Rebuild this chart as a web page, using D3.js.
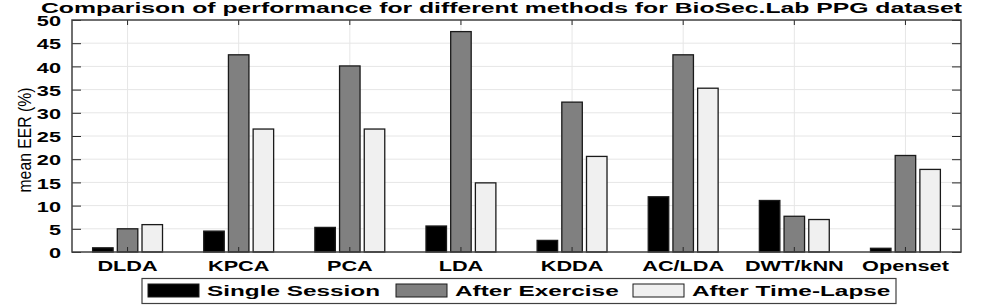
<!DOCTYPE html>
<html>
<head>
<meta charset="utf-8">
<script src="https://cdn.jsdelivr.net/npm/d3@7"></script>
<style>
  body { margin: 0; background: #fff; }
  text { font-family: "Liberation Sans", Arial, Helvetica, sans-serif; fill: #000; }
</style>
</head>
<body>
<svg id="chart" width="999" height="307"></svg>
<script>
const methods = ["DLDA", "KPCA", "PCA", "LDA", "KDDA", "AC/LDA", "DWT/kNN", "Openset"];
const seriesNames = ["Single Session", "After Exercise", "After Time-Lapse"];
const singleSession = [0.9, 4.5, 5.3, 5.6, 2.5, 11.9, 11.1, 0.8];
const afterExercise = [5.0, 42.5, 40.1, 47.5, 32.3, 42.5, 7.7, 20.8];
const afterTimeLapse = [5.9, 26.5, 26.5, 14.9, 20.6, 35.3, 7.0, 17.8];
const yTicks = [0, 5, 10, 15, 20, 25, 30, 35, 40, 45, 50];
const colors = ["#000000", "#808080", "#f0f0f0"];

const size = { left: 72, right: 961, top: 20, bottom: 252 };
const svg = d3.select("#chart");

// stretch text horizontally like the reference
function stretch(sel, k) {
    sel.each(function() {
        const w = this.getComputedTextLength();
        d3.select(this).attr("textLength", w * k).attr("lengthAdjust", "spacingAndGlyphs");
    });
}

const x = d3.scaleBand().domain(methods).range([size.left, size.right]).padding(0);
const y = d3.scaleLinear().domain([0, 50]).range([size.bottom, size.top]);
const inner = d3.scaleBand().domain(seriesNames).range([0, 69.9]).paddingInner(0.17).paddingOuter(0);

const data = methods.map((m, i) => ({
    method: m,
    values: [singleSession[i], afterExercise[i], afterTimeLapse[i]]
}));

// grid
svg.append("g").selectAll("line.h")
    .data(yTicks.slice(1, -1))
    .join("line")
    .attr("x1", size.left).attr("x2", size.right)
    .attr("y1", d => y(d)).attr("y2", d => y(d))
    .attr("stroke", "#e6e6e6").attr("stroke-width", 1);
svg.append("g").selectAll("line.v")
    .data(methods)
    .join("line")
    .attr("x1", d => x(d) + x.bandwidth() / 2).attr("x2", d => x(d) + x.bandwidth() / 2)
    .attr("y1", size.top).attr("y2", size.bottom)
    .attr("stroke", "#e6e6e6").attr("stroke-width", 1);

// bars
const groups = svg.append("g").selectAll("g")
    .data(data)
    .join("g")
    .attr("transform", d => `translate(${x(d.method) + x.bandwidth() / 2 - 34.95},0)`);
groups.selectAll("rect")
    .data(d => d.values.map((v, j) => ({ name: seriesNames[j], v, j })))
    .join("rect")
    .attr("x", d => inner(d.name))
    .attr("y", d => y(d.v))
    .attr("width", inner.bandwidth())
    .attr("height", d => y(0) - y(d.v))
    .attr("fill", d => colors[d.j])
    .attr("stroke", "#1a1a1a")
    .attr("stroke-width", 1.3);

// axes
const axisStyle = g => {
    g.select(".domain").remove();
    g.selectAll(".tick line").attr("stroke", "#262626").attr("stroke-width", 1);
    g.selectAll("text").attr("font-size", 14).attr("font-weight", "bold").attr("fill", "#262626");
};
const yl = svg.append("g")
    .attr("transform", `translate(${size.left},0)`)
    .call(d3.axisLeft(y).tickValues(yTicks).tickSizeInner(-9).tickSizeOuter(0).tickPadding(11))
    .call(axisStyle);
yl.selectAll("text").attr("dy", "0.4em");
stretch(yl.selectAll("text"), 1.55);
svg.append("g")
    .attr("transform", `translate(${size.right},0)`)
    .call(d3.axisRight(y).tickValues(yTicks).tickSizeInner(-9).tickSizeOuter(0).tickFormat(""))
    .call(axisStyle);
const xb = svg.append("g")
    .attr("transform", `translate(0,${size.bottom})`)
    .call(d3.axisBottom(x).tickSizeInner(-5).tickSizeOuter(0).tickPadding(9))
    .call(axisStyle);
stretch(xb.selectAll("text"), 1.55);
svg.append("g")
    .attr("transform", `translate(0,${size.top})`)
    .call(d3.axisTop(x).tickSizeInner(-5).tickSizeOuter(0).tickFormat(""))
    .call(axisStyle);

// box
svg.append("rect")
    .attr("x", size.left).attr("y", size.top)
    .attr("width", size.right - size.left).attr("height", size.bottom - size.top)
    .attr("fill", "none").attr("stroke", "#404040").attr("stroke-width", 1.5);

// title
svg.append("text")
    .attr("x", 41).attr("y", 13)
    .attr("font-size", 14.5).attr("font-weight", "bold")
    .attr("textLength", 921).attr("lengthAdjust", "spacingAndGlyphs")
    .text("Comparison of performance for different methods for BioSec.Lab PPG dataset");

// y label (glyphs widened like the rest of the figure)
svg.append("text")
    .attr("transform", "translate(31,140) scale(1.35,1) rotate(-90)")
    .attr("text-anchor", "middle")
    .attr("font-size", 13)
    .attr("fill", "#1a1a1a")
    .attr("textLength", 105).attr("lengthAdjust", "spacingAndGlyphs")
    .text("mean EER (%)");

// legend
const legend = svg.append("g");
legend.append("rect")
    .attr("x", 142).attr("y", 278.5).attr("width", 754).attr("height", 25)
    .attr("fill", "#fff").attr("stroke", "#404040").attr("stroke-width", 1.2);
const swatchX = [148, 396, 633];
seriesNames.forEach((name, j) => {
    legend.append("rect")
        .attr("x", swatchX[j]).attr("y", 284).attr("width", 51).attr("height", 13)
        .attr("fill", colors[j]).attr("stroke", "#1a1a1a").attr("stroke-width", 1);
    const t = legend.append("text")
        .attr("x", swatchX[j] + 59).attr("y", 296)
        .attr("font-size", 15.5).attr("font-weight", "bold")
        .text(name);
    stretch(t, 1.57);
});
</script>
</body>
</html>
